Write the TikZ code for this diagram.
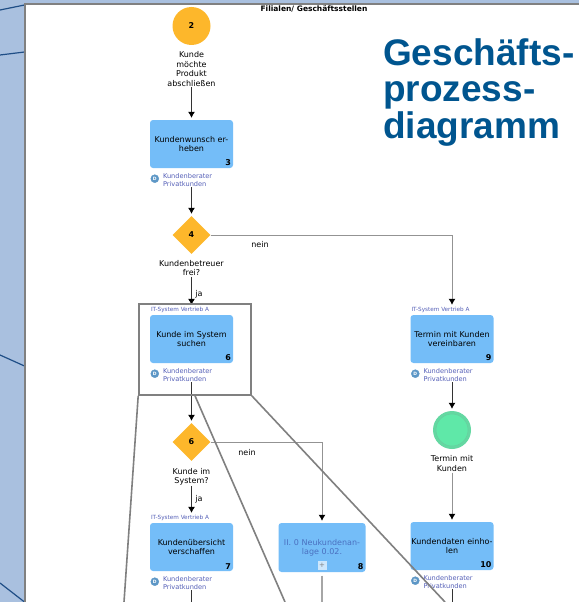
\documentclass[tikz,border=0pt]{standalone}
\usepackage{fontspec}
\setmainfont{DejaVu Sans}
\newfontfamily\titlefont{Liberation Sans}
\usetikzlibrary{arrows.meta,shapes.geometric}
\definecolor{Slide}{HTML}{A9C0DF}
\definecolor{SlideLine}{HTML}{1F4E86}
\definecolor{Frame}{HTML}{808080}
\definecolor{Task}{HTML}{74BDF8}
\definecolor{Gate}{HTML}{FDB72B}
\definecolor{Done}{HTML}{5FE8A8}
\definecolor{Owner}{HTML}{5560B8}
\definecolor{SubTask}{HTML}{4A70C0}
\definecolor{Title}{HTML}{00558F}

\begin{document}
\begin{tikzpicture}[
  x=1pt,y=-1pt,
  small/.style = {font=\fontsize{8}{9.4}\selectfont},
  task/.style = {small,fill=Task,rounded corners=3pt,minimum width=83,minimum height=48,
    text width=83,inner sep=0,align=center},
  tasknum/.style = {font=\fontsize{8}{9.4}\bfseries\selectfont,anchor=south east,inner sep=2pt},
  gate/.style = {font=\fontsize{8}{9.4}\bfseries\selectfont,fill=Gate,diamond,aspect=1,
    minimum width=38,minimum height=38,inner sep=0},
  caption/.style = {small,align=center,inner sep=1pt},
  owner/.style = {font=\fontsize{6.6}{8}\selectfont,text=Owner,align=left,anchor=north west,inner sep=0},
  system/.style = {font=\fontsize{5.7}{6}\selectfont,text=Owner,anchor=west,inner sep=0},
  ownericon/.style = {circle,fill=Task!80!black,draw=Task!80!black,text=white,
    font=\fontsize{4.5}{4.5}\bfseries\selectfont,minimum size=8,inner sep=0},
  flow/.style = {-{Latex[black,length=6pt,width=7pt]},shorten >=2pt,black!80,line width=.8pt},
  branch/.style = {flow,Frame!85,line width=1pt},
  hilite/.style = {draw=Frame,line width=1.6pt}
  ]
  \useasboundingbox (0,0) rectangle (579,602);
  % slide behind the panel
  \fill[Slide] (0,0) rectangle (579,602);
  \foreach \a/\b in {10/5,55/52,355/366,583/602} {
    \draw[SlideLine,line width=1.2pt] (0,\a) -- (24.5,\b);
  }
  \fill[white] (25,4) rectangle (579,602);
  \draw[Frame,line width=1.8pt] (25,602) -- (25,4) -- (579,4);
  %
  \node[font=\fontsize{7.5}{8}\bfseries\selectfont,inner sep=0] (Pool) at (314,9) {Filialen/ Geschäftsstellen};
  \node[anchor=north west,inner sep=0,align=left,text=Title,
    font=\titlefont\fontsize{37}{36.5}\bfseries\selectfont] (Headline) at (383,38)
    {Geschäfts-\\prozess-\\diagramm};
  %
  \node[font=\fontsize{8}{9.4}\bfseries\selectfont,circle,fill=Gate,minimum size=38,inner sep=0] (S2) at (191.5,26) {2};
  \node[caption] (S2t) at (191.5,69) {Kunde\\möchte\\Produkt\\abschließen};
  \foreach \n/\x/\y/\t in {3/191.5/144/{Kundenwunsch er-\\heben},
      6/191.5/339/{Kunde im System\\suchen},
      7/191.5/547/{Kundenübersicht\\verschaffen},
      9/452/339/{Termin mit Kunden\\vereinbaren},
      10/452/546/{Kundendaten einho-\\len}} {
    \node[task] (T\n) at (\x,\y) {\t};
    \node[tasknum] (T\n n) at (T\n.south east) {\n};
    \node[ownericon] (I\n) at ([shift={(5,10.5)}]T\n.south west) {D};
    \node[owner] (O\n) at ([shift={(13,5.5)}]T\n.south west) {Kundenberater\\Privatkunden};
  }
  \foreach \n in {6,7,9} {
    \node[system] (Y\n) at ([shift={(1,-5)}]T\n.north west) {IT-System Vertrieb A};
  }
  \node[task,text=SubTask,minimum width=87,minimum height=49,text width=87] (T8) at (322,547.5) {II. 0 Neukundenan-\\lage 0.02.\\[8pt]};
  \node[tasknum] (T8n) at (T8.south east) {8};
  \node[fill=white,fill opacity=.65,minimum size=9,inner sep=0,text=Frame,text opacity=1,
    font=\fontsize{7}{7}\selectfont] (T8p) at (322,565.5) {+};
  %
  \node[gate] (D4) at (191.5,235) {4};
  \node[caption] (D4t) at (191.5,268) {Kundenbetreuer\\frei?};
  \node[gate] (D6) at (191.5,442) {6};
  \node[caption] (D6t) at (191.5,476.5) {Kunde im\\System?};
  %
  \node[circle,fill=Done!85!gray,minimum size=38,inner sep=0] (E1) at (452,430) {};
  \node[circle,draw=Done!75!gray,fill=Done,minimum size=32,line width=.5pt,inner sep=0] (E1i) at (452,430) {};
  \node[caption] (E1t) at (452,463.5) {Termin mit\\Kunden};
  %
  \node[small,inner sep=0] (Nein4) at (260,245) {nein};
  \node[small,inner sep=0] (Nein6) at (247,453) {nein};
  \node[small,inner sep=0] (Ja4) at (199,294) {ja};
  \node[small,inner sep=0] (Ja6) at (199,499.5) {ja};
  %
  \coordinate (X7) at (191.5,602);
  \coordinate (X8) at (322,602);
  \coordinate (X10) at (452,602);
  \draw[flow] (S2t) -- (T3);
  \draw[flow] (T3 |- O3.south) -- (D4);
  \draw[flow] (D4t) -- (D4t |- Y6.north);
  \draw[flow] (T6 |- O6.south) -- (D6);
  \draw[flow] (D6t) -- (D6t |- Y7.north);
  \draw[black!80,line width=.8pt] (T7 |- O7.south) -- (X7);
  \draw[branch] (D4.east) -- (T9 |- D4) -- (T9 |- Y9.north);
  \draw[branch] (D6.east) -- (T8 |- D6) -- (T8);
  \draw[Frame!70,line width=1.2pt] (T8) ++(0,28) -- (X8);
  \draw[flow] (T9 |- O9.south) -- (E1);
  \draw[branch] (E1t) -- (T10);
  \draw[black!80,line width=.8pt] (T10 |- O10.south) -- (X10);
  % magnifier over the diagram
  \node[hilite,minimum width=112,minimum height=91,inner sep=0] (Zoom) at (195,349.5) {};
  \coordinate (ZoomL) at (124,602);
  \coordinate (ZoomM) at (285,602);
  \coordinate (ZoomR) at (445,602);
  \draw[hilite] (Zoom.south west) -- (ZoomL);
  \draw[hilite] (Zoom.south) -- (ZoomM);
  \draw[hilite] (Zoom.south east) -- (ZoomR);
\end{tikzpicture}
\end{document}
